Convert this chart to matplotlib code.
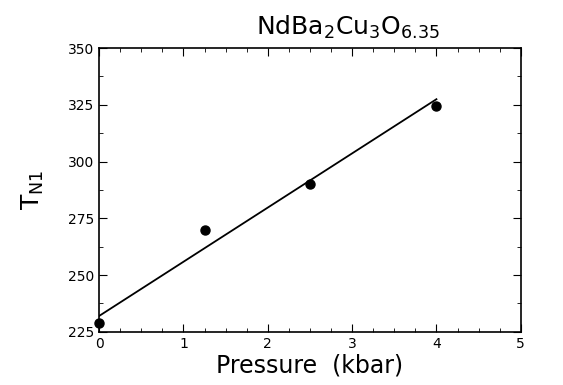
import matplotlib
matplotlib.use('Agg')
from matplotlib import pyplot as plt
from matplotlib.ticker import MultipleLocator

# measured points
pressure = [0.0, 1.25, 2.5, 4.0]
tn1 = [229.0, 270.0, 290.0, 324.5]

# straight-line fit
fit_p = [0.0, 4.0]
fit_t = [232.0, 327.5]

plt.rcParams['font.family'] = ['DejaVu Sans']
fig = plt.figure(figsize=(5.63, 3.85), dpi=100)
ax = fig.add_axes([0.176, 0.138, 0.749, 0.737])

ax.plot(fit_p, fit_t, color='black', lw=1.3)
ax.plot(pressure, tn1, 'o', color='black', ms=6.5, clip_on=False, zorder=3)

ax.set_xlim(0, 5)
ax.set_ylim(225, 350)
ax.xaxis.set_major_locator(MultipleLocator(1))
ax.xaxis.set_minor_locator(MultipleLocator(0.25))
ax.yaxis.set_major_locator(MultipleLocator(25))
ax.yaxis.set_minor_locator(MultipleLocator(12.5))
ax.tick_params(which='both', direction='in', top=True, right=True, labelsize=10)
ax.tick_params(which='major', length=6)
ax.tick_params(which='minor', length=3)
for s in ax.spines.values():
    s.set_linewidth(1.2)

ax.set_xlabel('Pressure  (kbar)', fontsize=17, labelpad=2)
ax.set_ylabel(r'T$_{\rm N1}$', fontsize=18, labelpad=16)
ax.text(0.59, 1.025, r'NdBa$_2$Cu$_3$O$_{6.35}$', transform=ax.transAxes,
        ha='center', va='bottom', fontsize=18)

fig.savefig('out.png', dpi=100)
